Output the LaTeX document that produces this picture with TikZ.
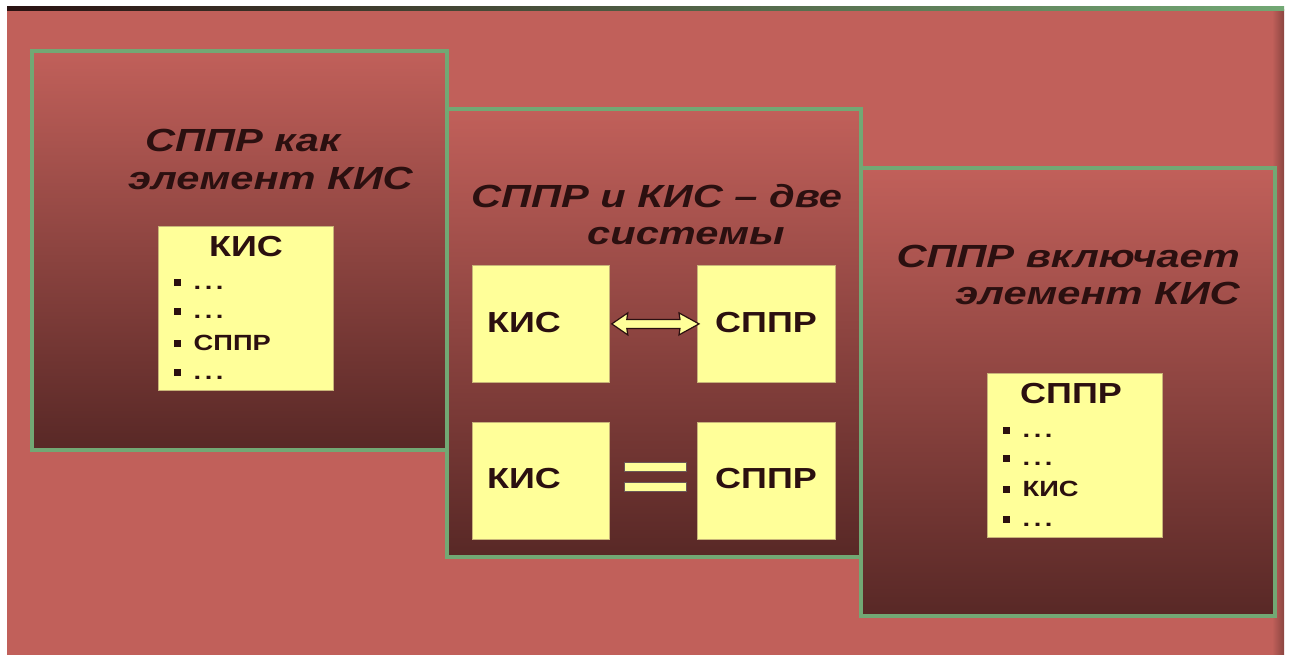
\documentclass[tikz,border=0pt]{standalone}
\usepackage{fontspec}
\setmainfont{Liberation Sans}
\newfontfamily\titlefont{Liberation Sans}[FakeStretch=1.3]
\newfontfamily\boxfont{Liberation Sans}[FakeStretch=1.24]
\usetikzlibrary{calc}
\definecolor{bgred}{HTML}{C1605A}
\definecolor{pdark}{HTML}{582826}
\definecolor{pgreen}{HTML}{72A874}
\definecolor{ink}{HTML}{2B1010}
\definecolor{boxy}{HTML}{FFFF99}
\definecolor{boxedge}{HTML}{C8B478}
\newcommand\bul{\rule[3.5pt]{7pt}{7pt}\hspace{12.5pt}}
\newcommand\dotsx{.\kern3.5pt.\kern3.5pt.}
\begin{document}
\begin{tikzpicture}[x=1pt,y=-1pt,
  panel/.style={top color=bgred,bottom color=pdark,draw=pgreen,line width=4pt},
  ybox/.style={fill=boxy,draw=boxedge,line width=0.8pt,inner sep=0pt,anchor=north west},
  title/.style={text=ink,inner sep=0pt,font=\titlefont\bfseries\itshape\fontsize{32}{38}\selectfont},
  btitle/.style={text=ink,inner sep=0pt,anchor=base,font=\boxfont\bfseries\fontsize{29}{34}\selectfont},
  btext/.style={text=ink,inner sep=0pt,anchor=base west,font=\boxfont\bfseries\fontsize{29}{34}\selectfont},
  litem/.style={text=ink,inner sep=0pt,anchor=base west,font=\boxfont\bfseries\fontsize{22}{30}\selectfont},
  arrowshape/.style={fill=boxy,draw=ink,line width=1.2pt,line join=miter},
  eqbar/.style={fill=boxy,draw=ink!70,line width=0.6pt}]
\useasboundingbox (0,0) rectangle (1291,655);
\fill[white] (0,0) rectangle (1291,655);
% background
\fill[bgred] (7,10) rectangle (1284,655);
\shade[left color=bgred,right color=bgred!72!black] (1272,10) rectangle (1284,655);
\shade[left color={rgb,255:red,42;green,18;blue,18},middle color={rgb,255:red,60;green,66;blue,48},right color=pgreen] (7,7) rectangle (1284,11);
% panels
\path[panel] (32,51) rectangle (447,450);
\path[panel] (447,109) rectangle (861,557);
\path[panel] (861,168) rectangle (1275,616);
% panel 1
\node[title,anchor=base west] (t1a) at (145,152) {СППР как};
\node[title,anchor=base west] (t1b) at (128,190) {элемент КИС};
\node[ybox,minimum width=175pt,minimum height=164pt] (b1) at (158,226) {};
\node[btitle] (b1t) at (246,257) {КИС};
\node[litem] (b1i1) at (174,290) {\bul\dotsx};
\node[litem] (b1i2) at (174,319) {\bul\dotsx};
\node[litem] (b1i3) at (174,350) {\bul СППР};
\node[litem] (b1i4) at (174,379) {\bul\dotsx};
% panel 2
\node[title,anchor=base west] (t2a) at (471,208) {СППР и КИС – две};
\node[title,anchor=base west] (t2b) at (587,245) {системы};
\node[ybox,minimum width=137pt,minimum height=117pt] (k1) at (472,265) {};
\node[ybox,minimum width=138pt,minimum height=117pt] (s1) at (697,265) {};
\node[ybox,minimum width=137pt,minimum height=117pt] (k2) at (472,422) {};
\node[ybox,minimum width=138pt,minimum height=117pt] (s2) at (697,422) {};
\node[btext] (k1t) at (487,332) {КИС};
\node[btext] (s1t) at (715,332) {СППР};
\node[btext] (k2t) at (487,488) {КИС};
\node[btext] (s2t) at (715,488) {СППР};
\draw[arrowshape] ($(k1.east)+(2,0)$) -- ($(k1.east)+(18,-11)$) -- ($(k1.east)+(17,-4.5)$)
  -- ($(s1.west)+(-17,-4.5)$) -- ($(s1.west)+(-18,-11)$) -- ($(s1.west)+(2,0)$)
  -- ($(s1.west)+(-18,11)$) -- ($(s1.west)+(-17,4.5)$)
  -- ($(k1.east)+(17,4.5)$) -- ($(k1.east)+(18,11)$) -- cycle;
\coordinate (eqc) at ($(k2.east)!0.5!(s2.west)$);
\draw[eqbar] ($(eqc)+(-29,-19)$) rectangle ($(eqc)+(33,-10)$);
\draw[eqbar] ($(eqc)+(-29,1)$) rectangle ($(eqc)+(33,10)$);
% panel 3
\node[title,anchor=base east] (t3a) at (1240,268) {СППР включает};
\node[title,anchor=base east] (t3b) at (1240,305) {элемент КИС};
\node[ybox,minimum width=175pt,minimum height=164pt] (b3) at (987,373) {};
\node[btitle] (b3t) at (1071,403) {СППР};
\node[litem] (b3i1) at (1003,437) {\bul\dotsx};
\node[litem] (b3i2) at (1003,465) {\bul\dotsx};
\node[litem] (b3i3) at (1003,496) {\bul КИС};
\node[litem] (b3i4) at (1003,526) {\bul\dotsx};
\end{tikzpicture}
\end{document}
